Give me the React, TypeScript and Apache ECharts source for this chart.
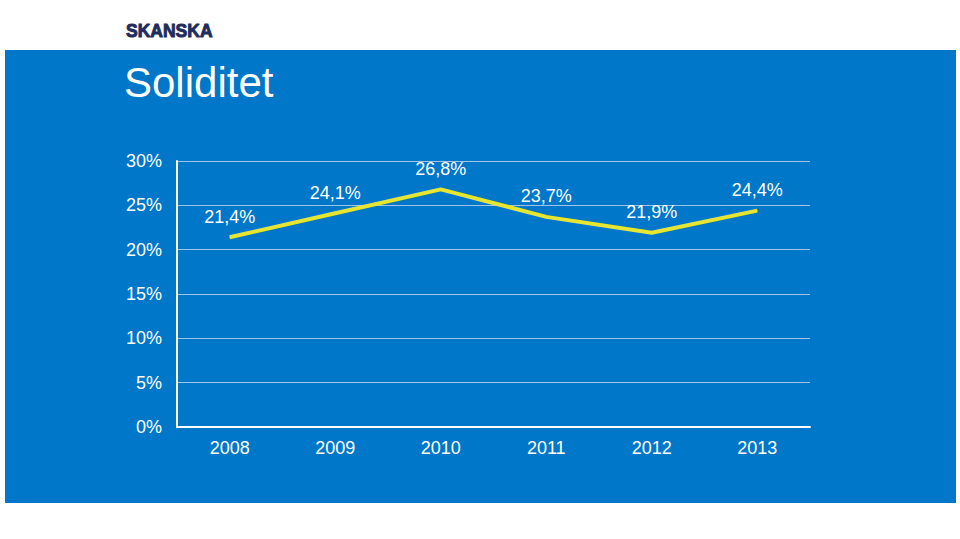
import React, { useEffect, useRef } from "react";
import * as echarts from "echarts";

const years = ["2008", "2009", "2010", "2011", "2012", "2013"];
const soliditet = [21.4, 24.1, 26.8, 23.7, 21.9, 24.4];
const title = "Soliditet";
const logo = "SKANSKA";

export default function App() {
  const ref = useRef<HTMLDivElement>(null);
  useEffect(() => {
    const chart = echarts.init(ref.current!, null, { renderer: "svg" });
    const font = "'Liberation Sans', Arial, sans-serif";
    chart.setOption({
      animation: false,
      backgroundColor: "#ffffff",
      graphic: [
        {
          type: "rect",
          z: -10,
          shape: { x: 5, y: 50, width: 951, height: 453 },
          style: { fill: "#0077c8" },
        },
        {
          type: "text",
          x: 126,
          y: 22,
          style: {
            text: logo,
            fill: "#232b5c",
            stroke: "#232b5c",
            lineWidth: 0.9,
            font: `900 17.5px ${font}`,
          },
        },
        {
          type: "text",
          x: 124,
          y: 61,
          style: {
            text: title,
            fill: "#ffffff",
            font: `42px ${font}`,
          },
        },
      ],
      grid: { left: 177, right: 150, top: 161, bottom: 112, containLabel: false },
      xAxis: {
        type: "category",
        data: years,
        boundaryGap: true,
        axisLine: { lineStyle: { color: "#ffffff", width: 2 } },
        axisTick: { show: false },
        axisLabel: { color: "#ffffff", fontSize: 18, fontFamily: font, margin: 12 },
      },
      yAxis: {
        type: "value",
        min: 0,
        max: 30,
        interval: 5,
        axisLine: { show: true, lineStyle: { color: "#ffffff", width: 2 } },
        axisTick: { show: false },
        axisLabel: {
          color: "#ffffff",
          fontSize: 18,
          fontFamily: font,
          margin: 15,
          formatter: "{value}%",
        },
        splitLine: { lineStyle: { color: "#9cc4e6", width: 1 } },
      },
      series: [
        {
          type: "line",
          data: soliditet,
          showSymbol: true,
          symbol: "circle",
          symbolSize: 1,
          itemStyle: { color: "#e6e632" },
          lineStyle: { color: "#e6e632", width: 4 },
          label: {
            show: true,
            position: "top",
            distance: 11,
            color: "#ffffff",
            fontSize: 18,
            fontFamily: font,
            formatter: (p: any) => p.value.toFixed(1).replace(".", ",") + "%",
          },
        },
      ],
    });
    return () => chart.dispose();
  }, []);
  return (
    <div
      ref={ref}
      style={{ position: "fixed", left: 0, top: 0, width: 960, height: 539 }}
    />
  );
}
